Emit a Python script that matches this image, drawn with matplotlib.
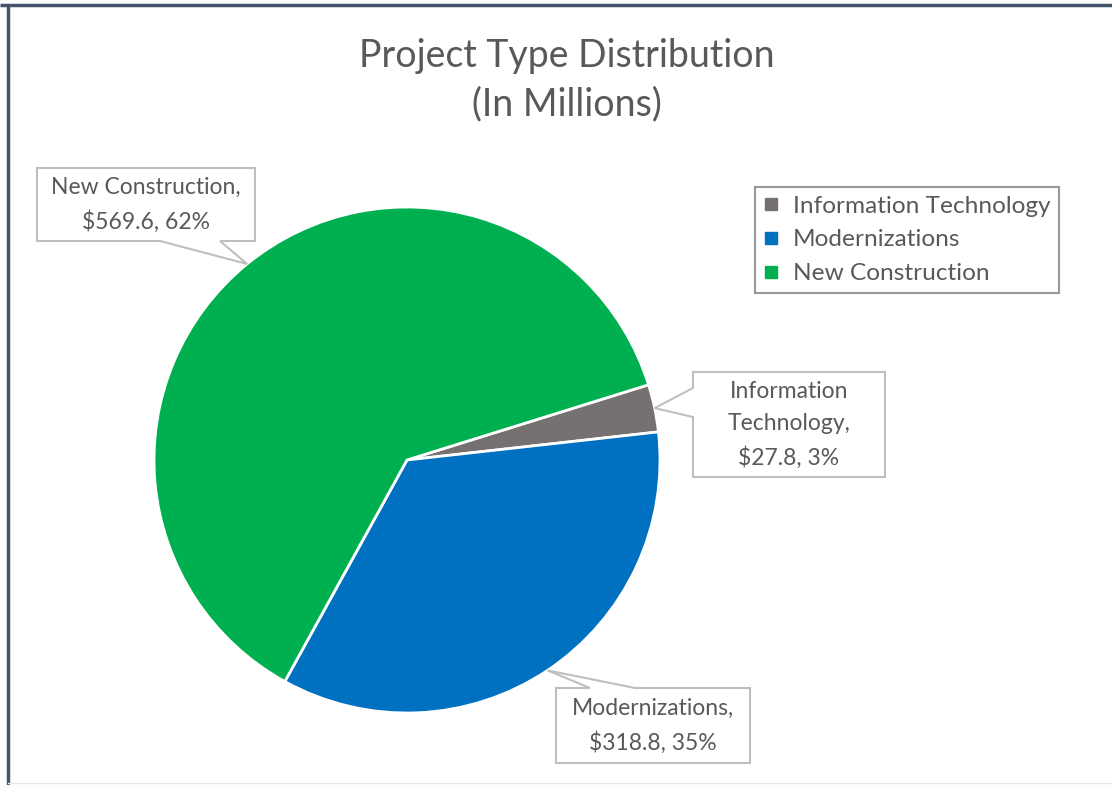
import numpy as np
import matplotlib.pyplot as plt
from matplotlib.patches import Polygon
from matplotlib.lines import Line2D

# data (millions)
categories = ["Information Technology", "Modernizations", "New Construction"]
values = [27.8, 318.8, 569.6]
colors = ["#767171", "#0070C0", "#00B050"]

W, H = 1112, 785
TXT = "#595959"
plt.rcParams["font.family"] = ["Lato", "DejaVu Sans"]

fig = plt.figure(figsize=(W / 100, H / 100), dpi=100)
ax = fig.add_axes([0, 0, 1, 1])

def Y(py):
    return H - py

cx, cy, R = 407, Y(460), 253
total = sum(values)
wedges, _ = ax.pie(values, colors=colors, startangle=17.3, counterclock=False,
                   center=(cx, cy), radius=R, frame=True,
                   wedgeprops=dict(edgecolor="white", linewidth=2))
ax.set_xlim(0, W)
ax.set_ylim(0, H)
ax.set_aspect("equal")
ax.axis("off")

def tip_of(w):
    a = np.deg2rad((w.theta1 + w.theta2) / 2)
    return cx + R * np.cos(a), cy + R * np.sin(a)

def callout(box, side, base, tip, lines):
    x0, y0, x1, y1 = box  # pixel coords, y down
    if side == "bottom":
        pts = [(x0, y0), (x1, y0), (x1, y1), (base[1], y1), tip, (base[0], y1), (x0, y1)]
    elif side == "top":
        pts = [(x0, y0), (base[0], y0), tip, (base[1], y0), (x1, y0), (x1, y1), (x0, y1)]
    else:  # left
        pts = [(x0, y0), (x1, y0), (x1, y1), (x0, y1), (x0, base[1]), tip, (x0, base[0])]
    pts = [(p[0], Y(p[1])) if p is not tip else p for p in pts]
    ax.add_patch(Polygon(pts, closed=True, facecolor="white", edgecolor="#BFBFBF",
                         linewidth=1.5, zorder=5))
    ax.text((x0 + x1) / 2, Y((y0 + y1) / 2), "\n".join(lines), ha="center", va="center",
            color=TXT, fontsize=16.5, linespacing=1.65, zorder=6)

def fmt(i):
    return f"${values[i]:.1f}, {values[i] / total:.0%}"

callout((37, 168, 255, 241), "bottom", (160, 220), tip_of(wedges[2]),
        [f"{categories[2]},", fmt(2)])
callout((693, 372, 885, 477), "left", (388, 417), tip_of(wedges[0]),
        ["Information", "Technology,", fmt(0)])
callout((556, 688, 750, 763), "top", (590, 635), tip_of(wedges[1]),
        [f"{categories[1]},", fmt(1)])

# title
ax.text(567, Y(56), "Project Type Distribution", ha="center", va="center",
        color=TXT, fontsize=27)
ax.text(567, Y(104), "(In Millions)", ha="center", va="center",
        color=TXT, fontsize=27)

# legend
handles = [Line2D([], [], marker="s", linestyle="none", markersize=8,
                  markerfacecolor=c, markeredgecolor=c) for c in colors]
leg = ax.legend(handles, categories, loc="upper left",
                bbox_to_anchor=(755 / W, 1 - 187 / H), bbox_transform=fig.transFigure,
                borderaxespad=0, frameon=True, fancybox=False, fontsize=17.6,
                handlelength=0.6, handletextpad=0.6, labelspacing=0.52,
                borderpad=0.35)
leg.get_frame().set_edgecolor("#7F7F7F")
leg.get_frame().set_linewidth(1.5)
for t in leg.get_texts():
    t.set_color(TXT)

# chart border (top and left)
ax.plot([0, W], [Y(5), Y(5)], color="#44546A", linewidth=2.5, solid_capstyle="butt")
ax.plot([8, 8], [Y(5), 0], color="#44546A", linewidth=2.5, solid_capstyle="butt")
ax.plot([8, W], [Y(783), Y(783)], color="#E6E6EA", linewidth=1)

fig.savefig("out.png", dpi=100)
